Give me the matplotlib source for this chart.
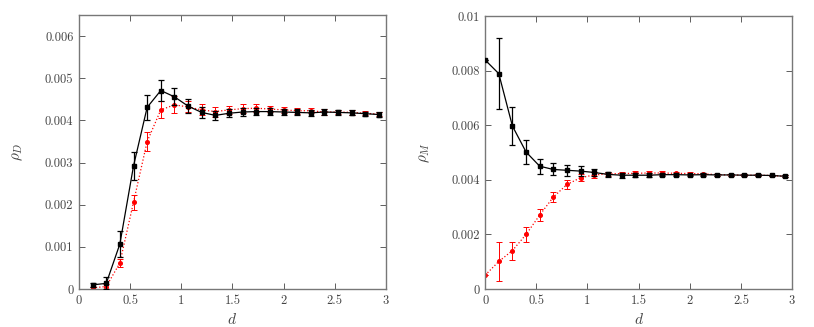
import numpy as np
import matplotlib
matplotlib.use('Agg')
import matplotlib.pyplot as plt

plt.rcParams['font.family'] = 'serif'
plt.rcParams['font.serif'] = ['cmr10', 'DejaVu Serif']
plt.rcParams['mathtext.fontset'] = 'cm'
plt.rcParams['axes.formatter.use_mathtext'] = True

# d values
d_left = np.arange(1, 23) / 7.5
d_right = np.arange(0, 23) / 7.5

# left panel: rho_D
rhoD_black = [0.00010, 0.000135, 0.00107, 0.00292, 0.00431, 0.00471, 0.00456, 0.00434,
              0.00419, 0.00412, 0.00417, 0.00420, 0.00421, 0.00421, 0.00420, 0.00419,
              0.00418, 0.00420, 0.00419, 0.00418, 0.00416, 0.00414]
rhoD_black_err = [0.00005, 0.00014, 0.00030, 0.00034, 0.00030, 0.00024, 0.00020, 0.00017,
                  0.00014, 0.00010, 0.00010, 0.00010, 0.00009, 0.00008, 0.00008, 0.00007,
                  0.00007, 0.00006, 0.00006, 0.00006, 0.00005, 0.00005]
rhoD_red = [0.00003, 0.00006, 0.00062, 0.00206, 0.00350, 0.00425, 0.00437, 0.00432,
            0.00425, 0.00421, 0.00425, 0.00428, 0.00429, 0.00427, 0.00425, 0.00423,
            0.00423, 0.00420, 0.00420, 0.00419, 0.00417, 0.00415]
rhoD_red_err = [0.00002, 0.00005, 0.00010, 0.00018, 0.00022, 0.00020, 0.00020, 0.00013,
                0.00013, 0.00012, 0.00010, 0.00010, 0.00010, 0.00008, 0.00007, 0.00007,
                0.00006, 0.00006, 0.00005, 0.00005, 0.00005, 0.00004]

# right panel: rho_M
rhoM_black = [0.00839, 0.00789, 0.00597, 0.00502, 0.00450, 0.00438, 0.00435, 0.00432,
              0.00427, 0.00420, 0.00417, 0.00417, 0.00417, 0.00419, 0.00419, 0.00418,
              0.00419, 0.00418, 0.00418, 0.00417, 0.00417, 0.00416, 0.00413]
rhoM_black_err = [0.0, 0.00130, 0.00068, 0.00043, 0.00028, 0.00022, 0.00020, 0.00017,
                  0.00013, 0.00010, 0.00009, 0.00008, 0.00007, 0.00006, 0.00006, 0.00005,
                  0.00005, 0.00004, 0.00004, 0.00004, 0.00003, 0.00003, 0.00003]
rhoM_red = [0.00051, 0.00101, 0.00141, 0.00200, 0.00271, 0.00337, 0.00383, 0.00408,
            0.00418, 0.00422, 0.00423, 0.00424, 0.00425, 0.00425, 0.00424, 0.00423,
            0.00422, 0.00419, 0.00418, 0.00417, 0.00417, 0.00416, 0.00413]
rhoM_red_err = [0.0, 0.00071, 0.00033, 0.00026, 0.00022, 0.00018, 0.00015, 0.00012,
                0.00010, 0.00008, 0.00007, 0.00007, 0.00006, 0.00006, 0.00005, 0.00005,
                0.00004, 0.00004, 0.00004, 0.00003, 0.00003, 0.00003, 0.00003]

fig = plt.figure(figsize=(8.14, 3.27), dpi=100)
ax1 = fig.add_axes([0.097, 0.116, 0.377, 0.838])
ax2 = fig.add_axes([0.596, 0.116, 0.377, 0.835])


def draw(ax, x, yb, eb, yr, er):
    ax.errorbar(x, yr, yerr=er, color='red', ls=':', lw=0.9, marker='o', ms=2.6,
                capsize=2, elinewidth=0.7, capthick=0.7, zorder=2)
    ax.errorbar(x, yb, yerr=eb, color='black', ls='-', lw=0.9, marker='s', ms=3.3,
                capsize=2, elinewidth=0.9, capthick=0.9, zorder=3)
    ax.set_xlim(0, 3)
    ax.set_xticks([0, 0.5, 1, 1.5, 2, 2.5, 3])
    ax.set_xticklabels(['0', '0.5', '1', '1.5', '2', '2.5', '3'])
    ax.tick_params(direction='in', top=True, right=True, length=4, width=0.6,
                   labelsize=9, colors='#444444', pad=4)
    for s in ax.spines.values():
        s.set_color('#777777')
        s.set_linewidth(1.0)
    ax.set_xlabel('$d$', fontsize=11, color='#444444')


draw(ax1, d_left, rhoD_black, rhoD_black_err, rhoD_red, rhoD_red_err)
ax1.set_ylim(0, 0.0065)
ax1.set_yticks([0, 0.001, 0.002, 0.003, 0.004, 0.005, 0.006])
ax1.set_yticklabels(['0', '0.001', '0.002', '0.003', '0.004', '0.005', '0.006'])
ax1.set_ylabel(r'$\rho_D$', fontsize=11, color='#444444', labelpad=14)

draw(ax2, d_right, rhoM_black, rhoM_black_err, rhoM_red, rhoM_red_err)
ax2.set_ylim(0, 0.01)
ax2.set_yticks([0, 0.002, 0.004, 0.006, 0.008, 0.01])
ax2.set_yticklabels(['0', '0.002', '0.004', '0.006', '0.008', '0.01'])
ax2.set_ylabel(r'$\rho_M$', fontsize=11, color='#444444', labelpad=14)

fig.savefig('out.png', dpi=100)
